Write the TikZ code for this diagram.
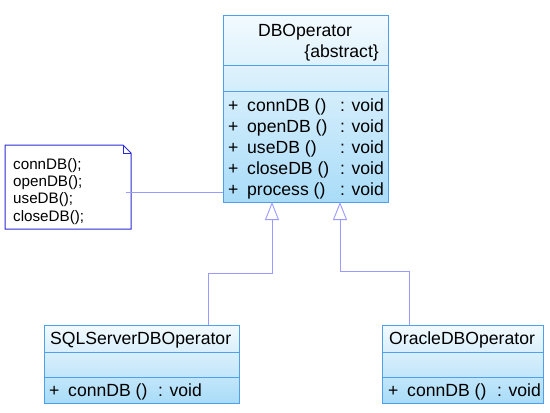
\documentclass[tikz,border=0pt]{standalone}
\usepackage{fontspec}
\setmainfont{Liberation Sans}
\usetikzlibrary{arrows.meta}
\definecolor{boxborder}{HTML}{4F9FEA}
\definecolor{boxtop}{HTML}{F2FAFE}
\definecolor{boxbot}{HTML}{A9DCF8}
\definecolor{linkcol}{HTML}{9A9AFF}
\definecolor{notecol}{HTML}{2A2AD8}
\tikzset{
  x=1pt, y=-1pt,
  classbox/.style={draw=boxborder, line width=1pt, top color=boxtop, bottom color=boxbot, rectangle, inner sep=0pt},
  divider/.style={draw=boxborder, line width=1pt},
  txt/.style={anchor=base west, inner sep=0pt, font=\fontsize{17.6}{19}\selectfont},
  notetxt/.style={anchor=base west, inner sep=0pt, font=\fontsize{15.2}{16}\selectfont},
  inherit/.style={draw=linkcol, line width=0.9pt, -{Triangle[open, length=18pt, width=14pt, line width=0.9pt]}},
  link/.style={draw=linkcol, line width=0.9pt},
}
\begin{document}
\begin{tikzpicture}
\useasboundingbox (0,0) rectangle (550,413);
% DBOperator
\node[classbox, minimum width=165pt, minimum height=187pt] (db) at (305.5,108.5) {};
\draw[divider] (223,65) -- (388,65);
\draw[divider] (223,91) -- (388,91);
\node[txt, anchor=base] (dbname) at (305,36) {DBOperator};
\node[txt, anchor=base east] (dbabs) at (379,57) {\{abstract\}};
\foreach \n/\y/\name in {1/111/connDB (),2/132/openDB (),3/153/useDB (),4/174/closeDB (),5/195/process ()}{
  \node[txt] (dbp\n) at (228,\y) {+};
  \node[txt] (dbm\n) at (247,\y) {\name};
  \node[txt] (dbv\n) at (340,\y) {: void};
}
% SQLServerDBOperator
\node[classbox, minimum width=195pt, minimum height=78pt] (sql) at (141.5,364) {};
\draw[divider] (44,352) -- (239,352);
\draw[divider] (44,377) -- (239,377);
\node[txt] (sqlname) at (50,344) {SQLServerDBOperator};
\node[txt] (sqlp) at (49,396) {+};
\node[txt] (sqlm) at (68,396) {connDB ()};
\node[txt] (sqlv) at (158,396) {: void};
% OracleDBOperator
\node[classbox, minimum width=161pt, minimum height=78pt] (ora) at (462.5,364) {};
\draw[divider] (382,352) -- (543,352);
\draw[divider] (382,377) -- (543,377);
\node[txt] (oraname) at (389,344) {OracleDBOperator};
\node[txt] (orap) at (388,396) {+};
\node[txt] (oram) at (407,396) {connDB ()};
\node[txt] (orav) at (497,396) {: void};
% Note
\draw[draw=notecol, fill=white, line width=1pt] (5,145) -- (123,145) -- (131,153) -- (131,229) -- (5,229) -- cycle;
\draw[draw=notecol, line width=0.6pt] (123,145) -- (123,153) -- (131,153);
\node[notetxt] (n1) at (13,169) {connDB();};
\node[notetxt] (n2) at (13,186) {openDB();};
\node[notetxt] (n3) at (13,203) {useDB();};
\node[notetxt] (n4) at (13,221) {closeDB();};
% connectors
\coordinate (noteend) at (126,192);
\draw[link] (noteend) -- (noteend -| db.west);
\coordinate (sqltop) at (208,325);
\coordinate (oratop) at (409,325);
\coordinate (tip1) at (272,202);
\coordinate (tip2) at (340,202);
\draw[inherit] (sqltop) |- (272,273) -- (tip1);
\draw[inherit] (oratop) |- (340,271) -- (tip2);
\end{tikzpicture}
\end{document}
